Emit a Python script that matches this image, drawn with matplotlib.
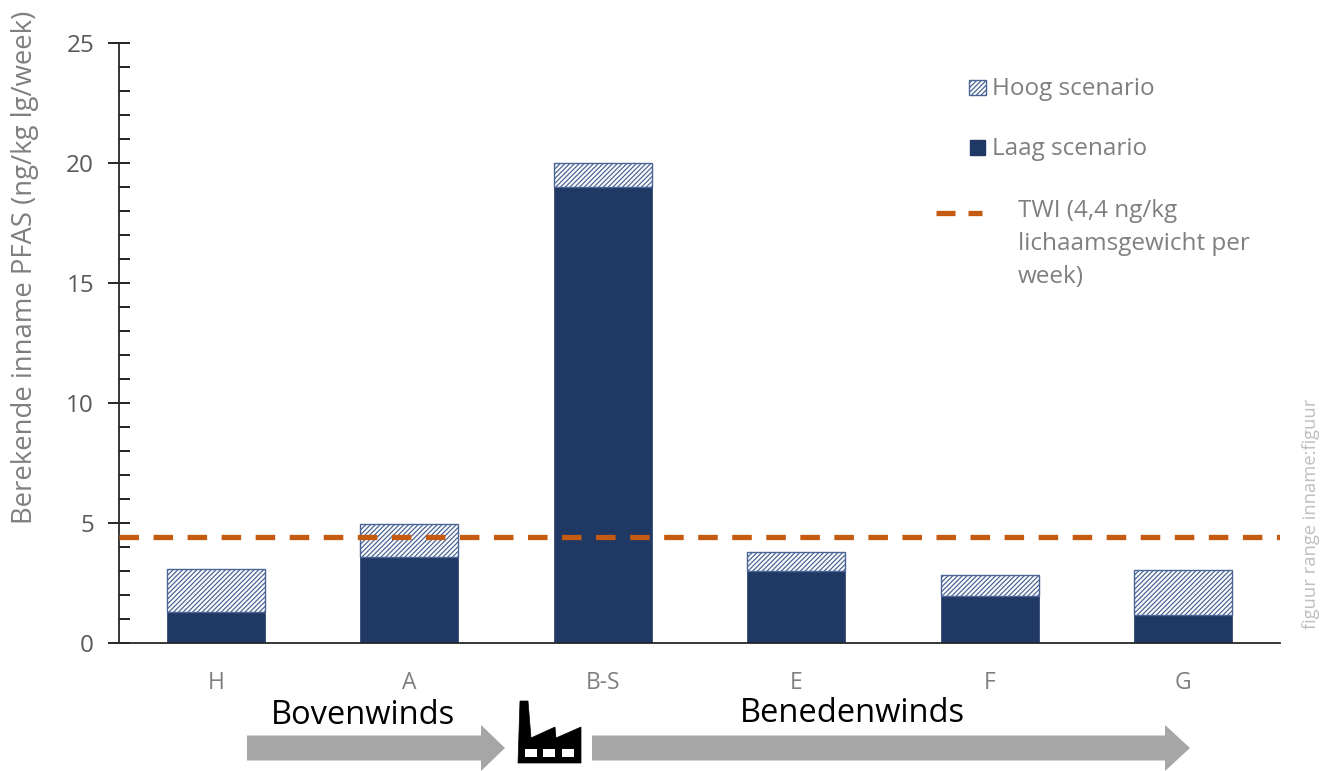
import matplotlib
matplotlib.use('Agg')
import matplotlib.pyplot as plt
import numpy as np
from matplotlib.patches import FancyArrow, Polygon, Rectangle
from matplotlib.ticker import MultipleLocator

categories = ['H', 'A', 'B-S', 'E', 'F', 'G']
laag = [1.3, 3.6, 19.0, 3.0, 1.95, 1.15]
hoog = [3.1, 4.95, 20.0, 3.8, 2.85, 3.05]
twi = 4.4

navy = '#1F3864'
hatch_blue = '#4A6496'
orange = '#C55A11'
grey = '#7F7F7F'

plt.rcParams['font.family'] = ['Open Sans', 'DejaVu Sans']
plt.rcParams['hatch.linewidth'] = 0.9

W, H = 1331, 771
fig = plt.figure(figsize=(W / 100, H / 100), dpi=100)
ax = fig.add_axes([119 / W, 1 - 643 / H, (1280 - 119) / W, 600 / H])

x = np.arange(len(categories))
laag = np.array(laag)
hoog = np.array(hoog)
ax.bar(x, laag, width=0.505, color=navy, edgecolor=navy, linewidth=0.5)
ax.bar(x, hoog - laag, bottom=laag, width=0.505, color='white', edgecolor=hatch_blue,
       linewidth=1, hatch='///////')
ax.plot([-0.5, 5.5], [twi, twi], color=orange, lw=3.8, dashes=(3.7, 2.75), zorder=5)

ax.set_xlim(-0.5, 5.5)
ax.set_ylim(0, 25)
ax.set_xticks(x)
ax.set_xticklabels(categories, fontsize=16.5, color=grey)
ax.tick_params(axis='x', length=0, pad=20)
ax.yaxis.set_major_locator(MultipleLocator(5))
ax.yaxis.set_minor_locator(MultipleLocator(1))
ax.tick_params(axis='y', which='major', direction='inout', length=16, width=1.2,
               labelsize=17.5, labelcolor='#595959', pad=10, left=True)
ax.tick_params(axis='y', which='minor', direction='in', length=8, width=1.2)
for s in ['top', 'right']:
    ax.spines[s].set_visible(False)
for s in ['left', 'bottom']:
    ax.spines[s].set_linewidth(1.3)
    ax.spines[s].set_color('#262626')
ax.set_ylabel('Berekende inname PFAS (ng/kg lg/week)', fontsize=19.8, color=grey)
ax.yaxis.set_label_coords(-80 / 1161, 0.626)

# overlay in pixel coordinates for the legend and annotations
ov = fig.add_axes([0, 0, 1, 1], zorder=10)
ov.set_xlim(0, W)
ov.set_ylim(H, 0)
ov.axis('off')
ov.patch.set_alpha(0)

ov.add_patch(Rectangle((969, 80), 17, 15, facecolor='white', edgecolor=hatch_blue, lw=1, hatch='///////'))
ov.add_patch(Rectangle((970, 140), 15, 15, facecolor=navy, edgecolor=navy))
ov.plot([936, 955], [213, 213], color=orange, lw=3.8, solid_capstyle='butt')
ov.plot([968, 982], [213, 213], color=orange, lw=3.8, solid_capstyle='butt')
ov.text(992, 89, 'Hoog scenario', fontsize=17.5, color=grey, va='center')
ov.text(992, 149, 'Laag scenario', fontsize=17.5, color=grey, va='center')
ov.text(1018, 211, 'TWI (4,4 ng/kg', fontsize=17.5, color=grey, va='center')
ov.text(1018, 244, 'lichaamsgewicht per', fontsize=17.5, color=grey, va='center')
ov.text(1018, 277, 'week)', fontsize=17.5, color=grey, va='center')

ov.text(1311, 514, 'figuur range inname:figuur', fontsize=13.2, color='#BFBFBF',
        rotation=90, ha='center', va='center')

ov.text(363, 716, 'Bovenwinds', fontsize=23.5, color='black', ha='center', va='center')
ov.text(852, 714, 'Benedenwinds', fontsize=23.5, color='black', ha='center', va='center')

ov.add_patch(FancyArrow(247, 748, 258, 0, width=25, head_width=46, head_length=24,
                        length_includes_head=True, color='#A6A6A6', lw=0))
ov.add_patch(FancyArrow(592, 748, 598, 0, width=25, head_width=46, head_length=25,
                        length_includes_head=True, color='#A6A6A6', lw=0))

# factory icon
factory = [(518, 763), (520, 701), (528, 701), (531, 738), (555, 727), (556, 738),
           (581, 727), (581, 763)]
ov.add_patch(Polygon(factory, closed=True, facecolor='black', edgecolor='black', lw=0.5))
for wx in [525, 543, 562]:
    ov.add_patch(Rectangle((wx, 749), 12, 8, facecolor='white', edgecolor='none'))

fig.savefig('out.png', dpi=100)
